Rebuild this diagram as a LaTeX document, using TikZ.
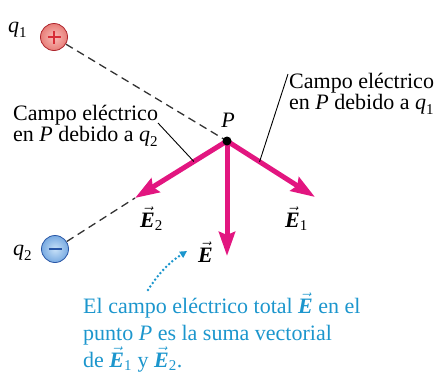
\documentclass[tikz,border=0pt]{standalone}
\usepackage{fontspec}
\setmainfont{Liberation Serif}
\usetikzlibrary{arrows.meta,calc}
\definecolor{fieldmag}{RGB}{226,22,128}
\definecolor{capblue}{RGB}{28,150,205}
\definecolor{posred}{RGB}{215,45,55}
\definecolor{negblue}{RGB}{40,85,165}
\definecolor{posin}{RGB}{248,190,185}
\definecolor{posout}{RGB}{232,125,120}
\definecolor{negin}{RGB}{200,225,248}
\definecolor{negout}{RGB}{120,170,225}
\newcommand\vEs[1]{\ensuremath{\vec{\mbox{\bfseries\itshape E}}_{\mbox{\fontsize{15}{15}\selectfont#1}}}}
\newcommand\vE{\ensuremath{\vec{\mbox{\bfseries\itshape E}}}}
\newcommand\qq[1]{\ensuremath{\mbox{\itshape q}_{\mbox{\fontsize{15}{15}\selectfont#1}}}}
\tikzset{
  lbl/.style={inner sep=0pt, anchor=base west, font=\fontsize{22}{21}\selectfont},
  bluelbl/.style={lbl, text=capblue},
  field/.style={draw=fieldmag, line width=5pt, -{Stealth[length=24pt,width=16pt,inset=3pt]}},
  guide/.style={draw=black!80, line width=1.3pt, dash pattern=on 8pt off 5pt},
  leader/.style={draw=black, line width=0.9pt},
  chargebase/.style={circle, minimum size=27pt, inner sep=0pt, line width=0.8pt},
}
\begin{document}
\begin{tikzpicture}[x=1pt,y=-1pt]
\useasboundingbox (0,0) rectangle (435,373);
% charges
\node[chargebase, inner color=posin, outer color=posout, draw=posred!80!black] (q1) at (54,37) {};
\node[chargebase, inner color=negin, outer color=negout, draw=negblue] (q2) at (55,249) {};
\draw[posred, line width=2.6pt] ([xshift=-6.5pt]q1.center) -- ([xshift=6.5pt]q1.center);
\draw[posred, line width=2.6pt] ([yshift=-6.5pt]q1.center) -- ([yshift=6.5pt]q1.center);
\draw[negblue, line width=2.8pt] ([xshift=-6.5pt]q2.center) -- ([xshift=6.5pt]q2.center);
\node[lbl] (q1l) at (8,32) {\qq{1}};
\node[lbl] (q2l) at (13,255) {\qq{2}};
% point P and vectors
\coordinate (Pc) at (227,141);
\coordinate (E2tip) at (135,198);
\coordinate (E1tip) at (315,197);
\coordinate (Etip) at (227,256);
\draw[guide] (q1) -- (Pc);
\draw[guide] (q2) -- (E2tip);
\draw[field] (Pc) -- (E2tip);
\draw[field] (Pc) -- (E1tip);
\draw[field] (Pc) -- (Etip);
\node[circle, fill=black, inner sep=0pt, minimum size=9pt] (P) at (Pc) {};
\node[lbl, anchor=base] (Pl) at (228,127) {\itshape P};
\node[lbl] (E2l) at (140,227) {\vEs{2}};
\node[lbl] (E1l) at (285,227) {\vEs{1}};
\node[lbl] (El) at (198,262) {\vE};
% text labels
\node[lbl] (t2a) at (13,120) {Campo eléctrico};
\node[lbl] (t2b) at (13,141) {en \textit{P} debido a \qq{2}};
\node[lbl] (t1a) at (289,88) {Campo eléctrico};
\node[lbl] (t1b) at (289,109) {en \textit{P} debido a \qq{1}};
\coordinate (lead2top) at (158,123);
\coordinate (lead2end) at ($(Pc)!0.36!(E2tip)$);
\coordinate (lead1top) at (288,74);
\coordinate (lead1end) at ($(Pc)!0.37!(E1tip)$);
\draw[leader] (lead2top) -- (lead2end);
\draw[leader] (lead1top) -- (lead1end);
% caption
\node[bluelbl] (c1) at (83,313) {El campo eléctrico total \vE\ en el};
\node[bluelbl] (c2) at (83,340) {punto \textit{P} es la suma vectorial};
\node[bluelbl] (c3) at (83,367) {de \vEs{1} y \vEs{2}.};
\coordinate (dotstart) at (148,290);
\coordinate (dotend) at (187,251);
\draw[capblue, line width=2.8pt, line cap=round, dash pattern=on 0pt off 4.2pt,
  -{Triangle[length=7pt,width=7pt]}] (dotstart) to[bend left=12] (dotend);
\end{tikzpicture}
\end{document}
